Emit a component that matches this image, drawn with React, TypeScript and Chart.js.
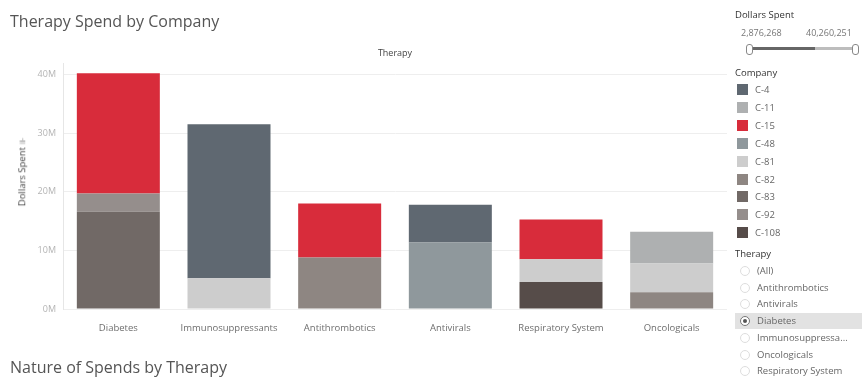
import React, { useEffect, useRef } from "react";
import { Chart, registerables } from "chart.js";

Chart.register(...registerables);

const therapies = ["Diabetes", "Immunosuppressants", "Antithrombotics", "Antivirals", "Respiratory System", "Oncologicals"];
// stack order bottom -> top
const companies = ["C-108", "C-83", "C-82", "C-48", "C-92", "C-81", "C-4", "C-11", "C-15"];
const companyColors = ["#564c49", "#716966", "#8e8682", "#8f989c", "#958e8c", "#cdcdcd", "#5f6871", "#aeb0b1", "#d82c3b"];
// values in dollars per therapy (same order as therapies)
const valuesC108 = [null, null, null, null, 4600000, null];
const valuesC83 = [16600000, null, null, null, null, null];
const valuesC82 = [null, null, 8800000, null, null, 2876268];
const valuesC48 = [null, null, null, 11350000, null, null];
const valuesC92 = [3100000, null, null, null, null, null];
const valuesC81 = [null, 5250000, null, null, 3900000, 4900000];
const valuesC4 = [null, 26300000, null, 6450000, null, null];
const valuesC11 = [null, null, null, null, null, 5400000];
const valuesC15 = [20560251, null, 9200000, null, 6780000, null];
const seriesValues = [valuesC108, valuesC83, valuesC82, valuesC48, valuesC92, valuesC81, valuesC4, valuesC11, valuesC15];

const legendOrder = ["C-4", "C-11", "C-15", "C-48", "C-81", "C-82", "C-83", "C-92", "C-108"];
const therapyFilter = ["(All)", "Antithrombotics", "Antivirals", "Diabetes", "Immunosuppressa...", "Oncologicals", "Respiratory System"];
const selectedTherapy = "Diabetes";
const yTicks = [0, 10000000, 20000000, 30000000, 40000000];
const rangeMin = "2,876,268";
const rangeMax = "40,260,251";

const FONT = "'Open Sans', sans-serif";

document.body.style.margin = "0";

export default function App() {
  const ref = useRef<HTMLCanvasElement>(null);
  useEffect(() => {
    const chart = new Chart(ref.current!, {
      type: "bar",
      data: {
        labels: therapies,
        datasets: companies.map((c, i) => ({
          label: c,
          data: seriesValues[i] as any,
          backgroundColor: companyColors[i],
          borderWidth: 0,
          categoryPercentage: 1,
          barPercentage: 0.75,
        })),
      },
      options: {
        animation: false,
        responsive: false,
        maintainAspectRatio: false,
        layout: { padding: { top: 63, right: 135, bottom: 39, left: 0 } },
        plugins: { legend: { display: false }, tooltip: { enabled: false } },
        scales: {
          x: {
            stacked: true,
            grid: { display: false },
            border: { display: false },
            ticks: { color: "#6e6e6e", font: { family: FONT, size: 9.5 }, padding: 6, maxRotation: 0, autoSkip: false },
            afterFit: (s: any) => { s.height = 30; },
          },
          y: {
            stacked: true,
            min: 0,
            max: 42000000,
            afterBuildTicks: (s: any) => { s.ticks = yTicks.map((v) => ({ value: v })); },
            grid: { color: "#eeeeee", drawTicks: false },
            border: { display: true, color: "#e6e6e6" },
            ticks: {
              color: "#b4b4b4",
              font: { family: FONT, size: 9 },
              padding: 7,
              callback: (v: any) => Math.round(Number(v) / 1000000) + "M",
            },
            title: { display: false },
            afterFit: (s: any) => { s.width = 63; },
          },
        },
      },
    });
    return () => chart.destroy();
  }, []);

  const txt = (extra: React.CSSProperties): React.CSSProperties => ({
    position: "absolute", fontFamily: FONT, whiteSpace: "nowrap", lineHeight: 1, ...extra,
  });

  return (
    <div style={{ position: "relative", width: 862, height: 378, overflow: "hidden", background: "#fff" }}>
      <canvas ref={ref} width={862} height={378} style={{ position: "absolute", left: 0, top: 0 }} />
      <div style={txt({ left: 10, top: 13, fontSize: 16, color: "#555" })}>Therapy Spend by Company</div>
      <div style={txt({ left: 10, top: 359, fontSize: 16, color: "#555" })}>Nature of Spends by Therapy</div>
      <div style={txt({ left: 395, top: 48, fontSize: 9, color: "#444", transform: "translateX(-50%)" })}>Therapy</div>
      <div style={txt({ left: 22, top: 172, fontSize: 9.5, color: "#444", transform: "translate(-50%,-50%) rotate(-90deg)" })}>
        Dollars Spent <span style={{ fontSize: 8, color: "#888" }}>⊪</span>
      </div>

      <div style={txt({ left: 735, top: 10, fontSize: 9.5, color: "#333" })}>Dollars Spent</div>
      <div style={txt({ left: 741, top: 28, fontSize: 9, color: "#777" })}>{rangeMin}</div>
      <div style={txt({ left: 806, top: 28, fontSize: 9, color: "#777" })}>{rangeMax}</div>
      <div style={{ position: "absolute", left: 751, top: 47, width: 64, height: 3, background: "#666" }} />
      <div style={{ position: "absolute", left: 815, top: 47, width: 38, height: 3, background: "#bdbdbd" }} />
      <div style={{ position: "absolute", left: 746, top: 44, width: 5, height: 9, border: "1px solid #888", borderRadius: 3, background: "#fff" }} />
      <div style={{ position: "absolute", left: 852, top: 44, width: 5, height: 9, border: "1px solid #888", borderRadius: 3, background: "#fff" }} />

      <div style={txt({ left: 735, top: 68, fontSize: 9.5, color: "#333" })}>Company</div>
      {legendOrder.map((c, i) => (
        <React.Fragment key={c}>
          <div style={{ position: "absolute", left: 737, top: 84 + i * 17.9, width: 11, height: 11, background: companyColors[companies.indexOf(c)] }} />
          <div style={txt({ left: 755, top: 85 + i * 17.9, fontSize: 9.5, color: "#666" })}>{c}</div>
        </React.Fragment>
      ))}

      <div style={txt({ left: 735, top: 249, fontSize: 9.5, color: "#333" })}>Therapy</div>
      {therapyFilter.map((t, i) => {
        const y = 271 + i * 16.7;
        const sel = t === selectedTherapy;
        return (
          <React.Fragment key={t}>
            {sel && <div style={{ position: "absolute", left: 735, top: y - 8, width: 127, height: 16, background: "#e2e2e2" }} />}
            <div style={{ position: "absolute", left: 740, top: y - 5, width: 8, height: 8, borderRadius: "50%", border: "1px solid " + (sel ? "#777" : "#ddd"), background: "#fff" }}>
              {sel && <div style={{ position: "absolute", left: 2, top: 2, width: 4, height: 4, borderRadius: "50%", background: "#555" }} />}
            </div>
            <div style={txt({ left: 757, top: y - 5, fontSize: 9.5, color: "#666" })}>{t}</div>
          </React.Fragment>
        );
      })}
    </div>
  );
}
